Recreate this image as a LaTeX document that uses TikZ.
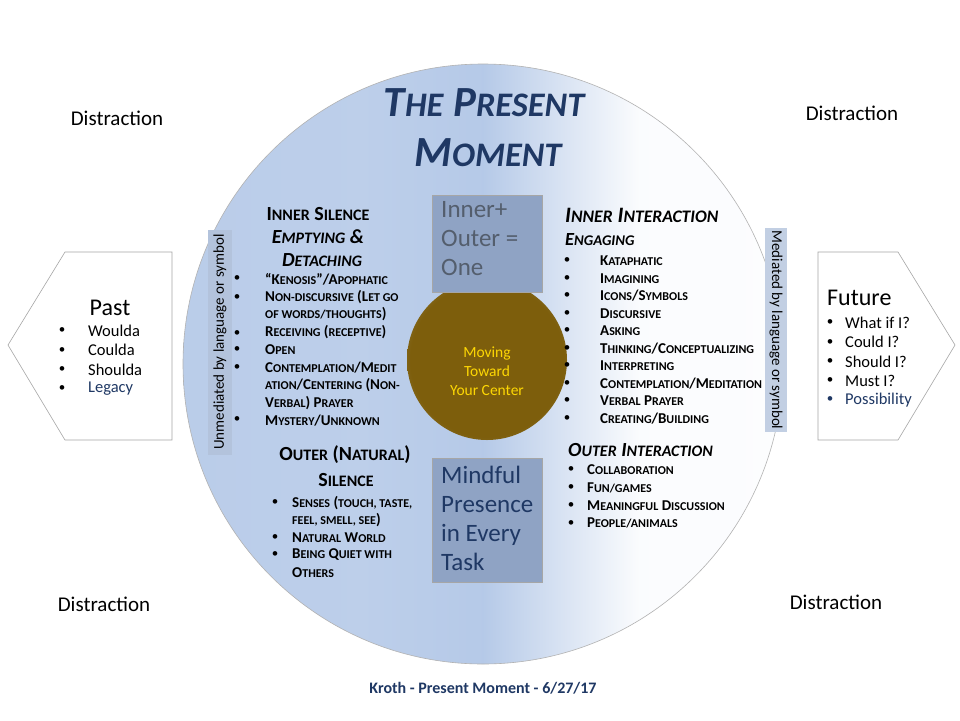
\documentclass[tikz,border=0pt]{standalone}
\usepackage{fontspec}
\setmainfont{Carlito}
\usetikzlibrary{positioning}
\makeatletter
\newcommand{\s}[1]{{\fontsize{0.8\dimexpr\f@size pt\relax}{0pt}\selectfont\MakeUppercase{#1}}}
\makeatother
\definecolor{navy}{HTML}{1F3864}
\definecolor{ringblue}{HTML}{A3BCE2}
\definecolor{boxblue}{HTML}{8FA3C4}
\definecolor{barblue}{HTML}{B3C3DC}
\definecolor{core}{HTML}{7D5E0C}
\definecolor{coreback}{HTML}{BACBE8}
\pgfdeclarehorizontalshading{moment}{100bp}{color(0bp)=(ringblue); color(25bp)=(ringblue!75!white); color(40bp)=(ringblue!72!white); color(50bp)=(ringblue!80!white); color(63bp)=(white!95!ringblue); color(100bp)=(white)}
\pgfdeclareradialshading{glow}{\pgfpoint{0bp}{0bp}}{color(0bp)=(core); color(24bp)=(core); color(36bp)=(core!60!coreback); color(48bp)=(coreback); color(50bp)=(coreback)}
\tikzset{
  distract/.style={font=\fontsize{21}{24}\selectfont},
  item/.style={anchor=west, font=\bfseries\fontsize{15}{17}\selectfont, inner sep=0pt},
  dot/.style={font=\fontsize{13}{15}\selectfont, inner sep=0pt},
  head/.style={font=\bfseries\itshape\fontsize{21}{24}\selectfont, inner sep=0pt},
  plain/.style={anchor=west, font=\fontsize{16.5}{19}\selectfont, inner sep=0pt},
  pane/.style={draw=gray!70, fill=boxblue, line width=1pt, inner sep=0pt},
}
\begin{document}
\begin{tikzpicture}[x=1pt,y=-1pt]
\useasboundingbox (0,0) rectangle (960,720);
\fill[white] (0,0) rectangle (960,720);
% the circle
\shade[shading=moment, draw=gray!60, line width=0.6pt] (483,364) circle (300);
\shade[shading=glow] (487,360) circle (80);
\node[font=\fontsize{15.5}{19}\selectfont, text=yellow!75!orange, align=center] (center) at (487,371) {Moving\\Toward\\Your Center};

% title
\node[head, text=navy, font=\bfseries\itshape\fontsize{43}{46}\selectfont] (title1) at (484,103) {T\s{he} P\s{resent}};
\node[head, text=navy, font=\bfseries\itshape\fontsize{43}{46}\selectfont] (title2) at (488,153) {M\s{oment}};

% side bars
\fill[barblue] (208,230) rectangle (232,455);
\node[rotate=90, font=\fontsize{15}{17}\selectfont] (unmed) at (220,342) {Unmediated by language or symbol};
\fill[barblue!80!white] (765,228) rectangle (787,432);
\node[rotate=-90, font=\fontsize{15}{17}\selectfont] (med) at (776,330) {Mediated by language or symbol};

% boxes
\node[pane, minimum width=110, minimum height=97] (one) at (487,243.5) {};
\node[anchor=north west, align=left, text=gray!20!boxblue!60!black, font=\fontsize{25}{29}\selectfont, inner sep=0pt] (onetxt) at (441,201) {Inner+\\Outer =\\One};
\node[pane, minimum width=110, minimum height=124] (task) at (487,520) {};
\node[anchor=north west, align=left, text=navy, font=\fontsize{25}{29}\selectfont, inner sep=0pt] (tasktxt) at (441,466) {Mindful\\Presence\\in Every\\Task};

% inner silence
\node[head, font=\bfseries\fontsize{20}{22}\selectfont] (isil) at (318,214) {I\s{nner} S\s{ilence}};
\node[head, font=\bfseries\itshape\fontsize{20}{22}\selectfont] (empt) at (318,237) {E\s{mptying} \&};
\node[head, font=\bfseries\itshape\fontsize{20}{22}\selectfont] (detach) at (322,260) {D\s{etaching}};
\foreach \y in {279,298,334,350,368,420} \node[dot] at (237,\y) {•};
\foreach \t [count=\i from 0] in {``K\s{enosis}''/A\s{pophatic},N\s{on-discursive} (L\s{et go},\s{of words/thoughts}),R\s{eceiving} (\s{receptive}),O\s{pen},C\s{ontemplation}/M\s{edit},\s{ation}/C\s{entering} (N\s{on-},V\s{erbal}) P\s{rayer},M\s{ystery}/U\s{nknown}}
  \node[item] (is\i) at (265,{279+\i*17.7}) {\t};

% outer silence
\node[head, font=\bfseries\fontsize{20}{22}\selectfont] (osil) at (345,455) {O\s{uter} (N\s{atural})};
\node[head, font=\bfseries\fontsize{20}{22}\selectfont] (osil2) at (346,480) {S\s{ilence}};
\foreach \y in {503,538,555} \node[dot] at (275,\y) {•};
\foreach \t [count=\i from 0] in {S\s{enses} (\s{touch, taste,},\s{feel, smell, see}),N\s{atural} W\s{orld},B\s{eing} Q\s{uiet with},O\s{thers}}
  \node[item] (os\i) at (292,{503+\i*17.3}) {\t};

% inner interaction
\node[head, anchor=west, font=\bfseries\itshape\fontsize{22}{24}\selectfont] (iint) at (565,215) {I\s{nner} I\s{nteraction}};
\node[head, anchor=west, font=\bfseries\itshape\fontsize{18.5}{20}\selectfont] (eng) at (565,240) {E\s{ngaging}};
\foreach \t [count=\i from 0] in {K\s{ataphatic},I\s{magining},I\s{cons}/S\s{ymbols},D\s{iscursive},A\s{sking},T\s{hinking}/C\s{onceptualizing},I\s{nterpreting},C\s{ontemplation}/M\s{editation},V\s{erbal} P\s{rayer},C\s{reating}/B\s{uilding}} {
  \node[dot] at (567,{261+\i*17.5}) {•};
  \node[item] (ii\i) at (600,{261+\i*17.5}) {\t};
}

% outer interaction
\node[head, anchor=west, font=\bfseries\itshape\fontsize{20}{22}\selectfont] (oint) at (568,450) {O\s{uter} I\s{nteraction}};
\foreach \t [count=\i from 0] in {C\s{ollaboration},F\s{un/games},M\s{eaningful} D\s{iscussion},P\s{eople/animals}} {
  \node[dot] at (571,{470+\i*17.7}) {•};
  \node[item] (oi\i) at (587,{470+\i*17.7}) {\t};
}

% past and future
\draw[gray!70, line width=0.6pt] (8,345) -- (65,252) -- (172,252) -- (172,440) -- (65,440) -- cycle;
\node[font=\fontsize{24}{26}\selectfont] (past) at (110,308) {Past};
\foreach \t/\c [count=\i from 0] in {Woulda/black,Coulda/black,Shoulda/black,Legacy/navy} {
  \node[dot] at (62,{331+\i*19.3}) {•};
  \node[plain, text=\c] (pa\i) at (88,{331+\i*19.3}) {\t};
}
\draw[gray!70, line width=0.6pt] (818,252) -- (898,252) -- (955,345) -- (898,440) -- (818,440) -- cycle;
\node[anchor=west, font=\fontsize{24}{26}\selectfont, inner sep=0pt] (future) at (827,298) {Future};
\foreach \t/\c [count=\i from 0] in {What if I?/black,Could I?/black,Should I?/black,Must I?/black,Possibility/navy} {
  \node[dot, text=\c] at (830,{323+\i*19.2}) {•};
  \node[plain, text=\c] (fu\i) at (845,{323+\i*19.2}) {\t};
}

% distractions
\node[distract] (d1) at (117,118) {Distraction};
\node[distract] (d2) at (852,113) {Distraction};
\node[distract] (d3) at (104,604) {Distraction};
\node[distract] (d4) at (836,602) {Distraction};

\node[text=navy, font=\bfseries\fontsize{16}{18}\selectfont] (foot) at (483,688) {Kroth - Present Moment - 6/27/17};
\end{tikzpicture}
\end{document}
